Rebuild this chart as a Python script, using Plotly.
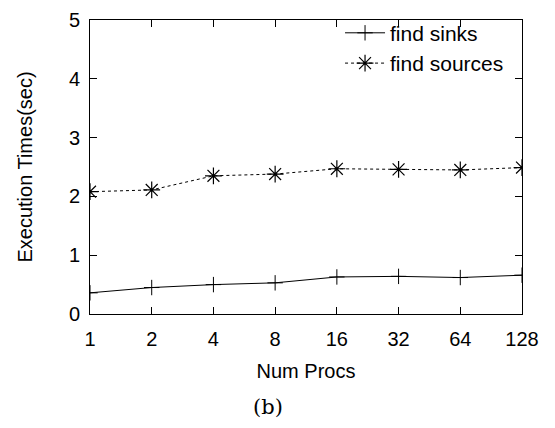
import plotly.graph_objects as go
import math

procs = [1, 2, 4, 8, 16, 32, 64, 128]
tick_labels = ["1", "2", "4", "8", "16", "32", "64", "128"]
find_sinks = [0.36, 0.45, 0.50, 0.53, 0.63, 0.64, 0.62, 0.66]
find_sources = [2.08, 2.11, 2.35, 2.38, 2.47, 2.46, 2.45, 2.49]

FONT = "Liberation Sans, Arial, Helvetica, sans-serif"

fig = go.Figure()
fig.add_trace(go.Scatter(
    x=procs, y=find_sinks, name="find sinks", mode="lines+markers",
    line=dict(color="black", width=1),
    marker=dict(symbol="cross-thin-open", size=11, color="black",
                line=dict(color="black", width=1)),
))
fig.add_trace(go.Scatter(
    x=procs, y=find_sources, name="find sources", mode="lines+markers",
    line=dict(color="black", width=1, dash="dot"),
    marker=dict(symbol="asterisk-open", size=14, color="black",
                line=dict(color="black", width=1.2)),
))

axis_common = dict(
    showline=True, linecolor="black", linewidth=1, mirror="ticks",
    ticks="inside", ticklen=7, tickcolor="black", tickwidth=1,
    showgrid=False, zeroline=False, automargin=False,
    tickfont=dict(family=FONT, size=20, color="black"),
)

fig.update_xaxes(
    type="log", range=[0, math.log10(128)],
    tickvals=procs, ticktext=tick_labels, ticklabelstandoff=7,
    title=dict(text="Num Procs", font=dict(family=FONT, size=20, color="black"), standoff=14),
    **axis_common,
)
fig.update_yaxes(
    range=[0, 5], dtick=1, tick0=0, ticklabelstandoff=5,
    title=dict(text="Execution Times(sec)", font=dict(family=FONT, size=20, color="black"), standoff=30),
    **axis_common,
)

fig.add_annotation(
    text="(b)", xref="paper", yref="paper", x=0.413, y=-0.318,
    xanchor="center", yanchor="middle", showarrow=False,
    font=dict(family="DejaVu Serif, Liberation Serif, serif", size=21, color="black"),
)

fig.update_layout(
    width=547, height=420,
    margin=dict(l=81.5, r=33.3, t=4.5, b=114),
    paper_bgcolor="white", plot_bgcolor="white",
    showlegend=True,
    legend=dict(x=0.97, y=1.025, xanchor="right", yanchor="top",
                bgcolor="rgba(0,0,0,0)", font=dict(family=FONT, size=21, color="black"),
                tracegroupgap=0, itemwidth=40),
    font=dict(family=FONT, color="black"),
)

fig.write_html("out.html")
